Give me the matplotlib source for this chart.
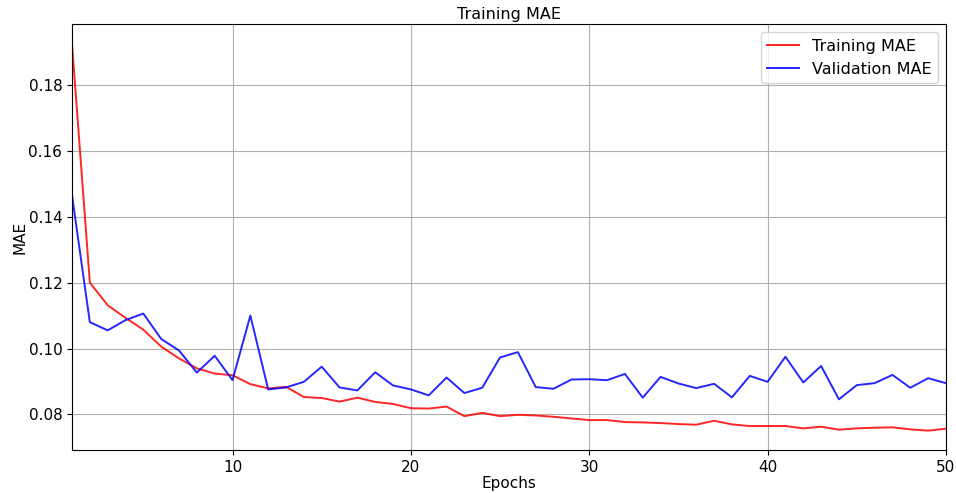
import matplotlib
matplotlib.use("Agg")
import matplotlib.pyplot as plt

epochs = list(range(1, 51))
train_mae = [
    0.1924, 0.1200, 0.1131, 0.1093, 0.1057, 0.1006, 0.0970, 0.0940, 0.0924, 0.0919,
    0.0892, 0.0879, 0.0884, 0.0853, 0.0850, 0.0839, 0.0851, 0.0838, 0.0832, 0.0819,
    0.0818, 0.0824, 0.0795, 0.0805, 0.0795, 0.0799, 0.0797, 0.0793, 0.0788, 0.0783,
    0.0783, 0.0777, 0.0776, 0.0774, 0.0771, 0.0769, 0.0781, 0.0770, 0.0765, 0.0765,
    0.0765, 0.0758, 0.0763, 0.0754, 0.0758, 0.0760, 0.0761, 0.0755, 0.0751, 0.0757,
]
val_mae = [
    0.1465, 0.1080, 0.1055, 0.1086, 0.1106, 0.1029, 0.0994, 0.0927, 0.0978, 0.0904,
    0.1100, 0.0876, 0.0882, 0.0899, 0.0945, 0.0882, 0.0873, 0.0928, 0.0888, 0.0876,
    0.0858, 0.0912, 0.0865, 0.0881, 0.0973, 0.0989, 0.0883, 0.0878, 0.0906, 0.0907,
    0.0904, 0.0923, 0.0851, 0.0914, 0.0894, 0.0880, 0.0893, 0.0852, 0.0917, 0.0899,
    0.0975, 0.0897, 0.0947, 0.0846, 0.0889, 0.0895, 0.0920, 0.0881, 0.0910, 0.0895,
]

fig = plt.figure(figsize=(9.56, 4.93), dpi=100)
ax = fig.add_axes([0.0753, 0.0872, 0.9142, 0.8635])
ax.plot(epochs, train_mae, color="red", lw=1.4, alpha=0.85, label="Training MAE")
ax.plot(epochs, val_mae, color="blue", lw=1.4, alpha=0.85, label="Validation MAE")
ax.set_xlim(1, 50)
ax.set_title("Training MAE", fontsize=11.5, pad=4)
ax.set_xlabel("Epochs", fontsize=11, labelpad=1)
ax.set_ylabel("MAE", fontsize=11, labelpad=1)
ax.tick_params(labelsize=11)
ax.grid(True)
ax.legend(loc="upper right", fontsize=11.5)
fig.savefig("out.png", dpi=100)
